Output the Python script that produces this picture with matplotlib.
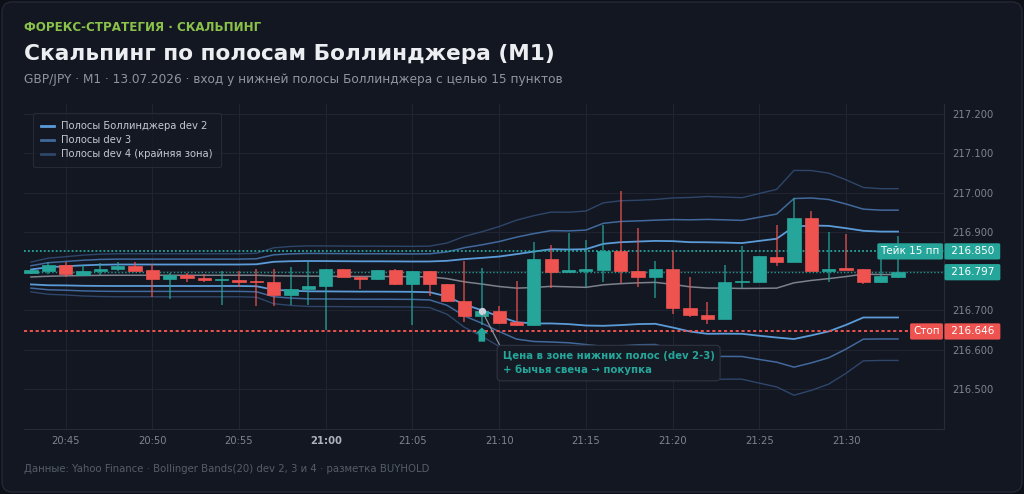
import matplotlib
matplotlib.use('Agg')
import matplotlib.pyplot as plt
from matplotlib.patches import FancyBboxPatch
from matplotlib.lines import Line2D
import numpy as np
import pandas as pd

# GBP/JPY M1 candles, 20:43 .. 21:33
open_ = [216.794, 216.801, 216.816, 216.790, 216.800, 216.806, 216.813, 216.802, 216.779, 216.790,
         216.783, 216.776, 216.778, 216.772, 216.771, 216.738, 216.754, 216.763, 216.805, 216.786,
         216.779, 216.802, 216.766, 216.799, 216.767, 216.724, 216.686, 216.699, 216.669, 216.662,
         216.831, 216.798, 216.801, 216.803, 216.852, 216.800, 216.785, 216.806, 216.706, 216.688,
         216.678, 216.771, 216.772, 216.835, 216.824, 216.935, 216.801, 216.806, 216.805, 216.771,
         216.786]
high = [216.805, 216.823, 216.823, 216.816, 216.821, 216.823, 216.823, 216.818, 216.795, 216.796,
        216.792, 216.800, 216.800, 216.806, 216.805, 216.811, 216.823, 216.806, 216.806, 216.787,
        216.803, 216.806, 216.800, 216.800, 216.768, 216.826, 216.807, 216.710, 216.775, 216.875,
        216.867, 216.898, 216.879, 216.916, 217.004, 216.909, 216.826, 216.851, 216.786, 216.720,
        216.816, 216.864, 216.839, 216.917, 216.985, 216.953, 216.900, 216.894, 216.806, 216.841,
        216.890]
low = [216.792, 216.793, 216.784, 216.788, 216.790, 216.801, 216.800, 216.735, 216.729, 216.773,
       216.772, 216.714, 216.760, 216.711, 216.712, 216.714, 216.714, 216.650, 216.785, 216.754,
       216.778, 216.765, 216.663, 216.737, 216.720, 216.669, 216.663, 216.666, 216.661, 216.661,
       216.756, 216.797, 216.760, 216.772, 216.769, 216.758, 216.731, 216.691, 216.683, 216.665,
       216.677, 216.756, 216.771, 216.814, 216.823, 216.799, 216.773, 216.802, 216.767, 216.769,
       216.782]
close = [216.803, 216.816, 216.792, 216.801, 216.806, 216.814, 216.801, 216.779, 216.790, 216.782,
         216.778, 216.780, 216.772, 216.771, 216.738, 216.754, 216.763, 216.805, 216.786, 216.779,
         216.802, 216.766, 216.799, 216.767, 216.724, 216.686, 216.699, 216.667, 216.662, 216.831,
         216.798, 216.801, 216.805, 216.852, 216.800, 216.785, 216.806, 216.705, 216.688, 216.678,
         216.771, 216.772, 216.837, 216.824, 216.935, 216.800, 216.805, 216.803, 216.771, 216.787,
         216.797]

# Bollinger(20) middle line and standard deviation
bb_mid = [216.7849, 216.7867, 216.7877, 216.7884, 216.7890, 216.7892, 216.7892, 216.7892, 216.7892, 216.7892,
          216.7892, 216.7892, 216.7892, 216.7892, 216.7879, 216.7874, 216.7869, 216.7867, 216.7864, 216.7861,
          216.7861, 216.7859, 216.7856, 216.7851, 216.7806, 216.7724, 216.7668, 216.7605, 216.7564, 216.7579,
          216.7610, 216.7597, 216.7584, 216.7648, 216.7678, 216.7699, 216.7711, 216.7661, 216.7597, 216.7566,
          216.7564, 216.7556, 216.7559, 216.7564, 216.7699, 216.7760, 216.7806, 216.7859, 216.7920, 216.7910,
          216.7910]
bb_sd = [0.0095, 0.0115, 0.0122, 0.0130, 0.0135, 0.0137, 0.0137, 0.0137, 0.0137, 0.0137,
         0.0137, 0.0137, 0.0137, 0.0140, 0.0178, 0.0188, 0.0193, 0.0193, 0.0193, 0.0193,
         0.0193, 0.0193, 0.0193, 0.0196, 0.0227, 0.0290, 0.0333, 0.0382, 0.0433, 0.0458,
         0.0473, 0.0475, 0.0486, 0.0522, 0.0528, 0.0526, 0.0528, 0.0550, 0.0569, 0.0583,
         0.0580, 0.0578, 0.0604, 0.0629, 0.0716, 0.0700, 0.0672, 0.0616, 0.0552, 0.0547,
         0.0547]
devs = [2, 3, 4]
band_labels = ['Полосы Боллинджера dev 2', 'Полосы dev 3', 'Полосы dev 4 (крайняя зона)']

take_price = 216.850
stop_price = 216.646
last_price = close[-1]
signal_idx = 26

y_ticks = [216.5, 216.6, 216.7, 216.8, 216.9, 217.0, 217.1, 217.2]

# colours
OUTER = '#0d1016'
BG = '#131722'
GREEN = '#26a69a'
RED = '#ef5350'
GRID = '#1f2430'
TXT_DIM = '#7d8490'
band_colors = ['#5b9bd8', '#41699c', '#2e466a']

times = pd.date_range('2026-07-13 20:43', periods=len(close), freq='1min')
x = np.arange(len(close))
o, h, l, c = map(np.array, (open_, high, low, close))
mid = np.array(bb_mid)
sd = np.array(bb_sd)

fig = plt.figure(figsize=(10.24, 4.94), dpi=100, facecolor=OUTER)
card = FancyBboxPatch((0.002, 0.004), 0.996, 0.992, boxstyle='round,pad=0,rounding_size=0.01',
                      mutation_aspect=1024 / 494, transform=fig.transFigure,
                      fc=BG, ec='#232834', lw=1.0, zorder=-5)
fig.patches.append(card)

ax = fig.add_axes([24 / 1024, 1 - 429 / 494, 920 / 1024, 325 / 494])
ax.patch.set_alpha(0)
ax.set_zorder(2)

# bands
ax.plot(x, mid, color='#7c818c', lw=1.1, zorder=2)
for k, col, lw in zip(devs, band_colors, [1.3, 1.1, 1.0]):
    ax.plot(x, mid + k * sd, color=col, lw=lw, zorder=2)
    ax.plot(x, mid - k * sd, color=col, lw=lw, zorder=2)

# candles
up = c >= o
cols = np.where(up, GREEN, RED)
ax.vlines(x, l, h, colors=cols, lw=1.2, alpha=0.75, zorder=3)
body_h = np.maximum(np.abs(c - o), 0.0035)
ax.bar(x, body_h, bottom=np.minimum(o, c), width=0.76, color=cols, edgecolor=cols, lw=0.5, zorder=4)

# levels
ax.axhline(take_price, color=GREEN, ls=(0, (1, 1.2)), lw=1.3, zorder=2.5)
ax.axhline(last_price, color=GREEN, ls=(0, (1, 1.5)), lw=1.0, alpha=0.9, zorder=2.5)
ax.axhline(stop_price, color=RED, ls=(0, (1.6, 1.4)), lw=1.4, zorder=2.5)

# signal: marker, arrow, note
ax.scatter([signal_idx], [close[signal_idx]], s=18, color='#cfd3db', zorder=6)
arrow_top = low[signal_idx] - 0.007
ax.arrow(signal_idx, arrow_top - 0.036, 0, 0.036, width=0.38, head_width=0.72, head_length=0.015,
         length_includes_head=True, color=GREEN, lw=0, zorder=6)
ax.annotate('Цена в зоне нижних полос (dev 2-3)\n+ бычья свеча → покупка',
            xy=(signal_idx, close[signal_idx]), xytext=(15, -29), textcoords='offset points',
            ha='left', va='top', fontsize=7.3, fontweight='bold', color=GREEN, linespacing=1.45,
            bbox=dict(boxstyle='round,pad=0.55,rounding_size=0.4', fc='#151a25', ec='#2c313d', lw=0.9),
            arrowprops=dict(arrowstyle='-', color='#8a8f9a', lw=0.9, relpos=(0, 1),
                            shrinkA=0, shrinkB=3), zorder=7)

# right side price tags
tag = dict(boxstyle='round,pad=0.3,rounding_size=0.15', ec='none')
lvl = ('axes fraction', 'data')
ax.annotate('Тейк 15 пп', xy=(1, take_price), xycoords=lvl, xytext=(-3, 0), textcoords='offset points',
            ha='right', va='center', fontsize=7.5, color='white', bbox=dict(fc=GREEN, **tag), zorder=8)
ax.annotate('Стоп', xy=(1, stop_price), xycoords=lvl, xytext=(-3, 0), textcoords='offset points',
            ha='right', va='center', fontsize=7.5, color='white', bbox=dict(fc=RED, **tag), zorder=8)
for price, col in [(take_price, GREEN), (last_price, GREEN), (stop_price, RED)]:
    ax.annotate(f' {price:.3f} ', xy=(1, price), xycoords=lvl, xytext=(2.6, 0), textcoords='offset points',
                ha='left', va='center', fontsize=7.5, color='white', bbox=dict(fc=col, **tag),
                annotation_clip=False, zorder=8)

# axes styling
ax.set_xlim(-0.4, 52.65)
ax.set_ylim(216.3975, 217.2255)
tick_idx = [i for i, t in enumerate(times) if t.minute % 5 == 0]
ax.set_xticks(tick_idx)
ax.set_xticklabels([times[i].strftime('%H:%M') for i in tick_idx])
ax.yaxis.tick_right()
ax.set_yticks(y_ticks)
# the 216.800 label sits under the last-price tag
ax.set_yticklabels(['' if abs(v - last_price) < 0.02 else f'{v:.3f}' for v in y_ticks])
ax.tick_params(axis='both', colors=TXT_DIM, labelsize=7.2, length=0)
ax.tick_params(axis='y', pad=6)
ax.tick_params(axis='x', pad=5)
for lab, i in zip(ax.get_xticklabels(), tick_idx):
    if times[i].minute == 0:
        lab.set_fontweight('bold')
        lab.set_color('#aeb3bd')
ax.grid(True, color=GRID, lw=0.8)
ax.set_axisbelow(True)
for s in ['left', 'top']:
    ax.spines[s].set_visible(False)
for s in ['right', 'bottom']:
    ax.spines[s].set_color('#262b36')
    ax.spines[s].set_linewidth(0.8)

handles = [Line2D([], [], color=col, lw=2) for col in band_colors]
leg = ax.legend(handles, band_labels, loc='upper left', bbox_to_anchor=(0.01, 0.972), borderaxespad=0,
                fontsize=7.2, frameon=True, facecolor='#141924', edgecolor='#2a2f3b', labelcolor='#c3c8d0',
                handlelength=1.3, handletextpad=0.7, labelspacing=0.4, borderpad=0.8, fancybox=True)
leg.get_frame().set_linewidth(0.8)
leg.set_zorder(9)

# header and footer
fig.text(24 / 1024, 1 - 30.7 / 494, 'ФОРЕКС-СТРАТЕГИЯ · СКАЛЬПИНГ', fontsize=8.6, fontweight='bold',
         color='#8bc34a', va='baseline')
fig.text(24 / 1024, 1 - 60 / 494, 'Скальпинг по полосам Боллинджера (M1)', fontsize=15.6, fontweight='bold',
         color='#eceef2', va='baseline')
fig.text(24 / 1024, 1 - 83.5 / 494,
         'GBP/JPY · M1 · 13.07.2026 · вход у нижней полосы Боллинджера с целью 15 пунктов',
         fontsize=8.75, color='#8e95a1', va='baseline')
fig.text(24 / 1024, 1 - 469.3 / 494,
         'Данные: Yahoo Finance · Bollinger Bands(20) dev 2, 3 и 4 · разметка BUYHOLD',
         fontsize=7.3, color='#565d69', va='center')

fig.savefig('out.png', dpi=100, facecolor=OUTER)
